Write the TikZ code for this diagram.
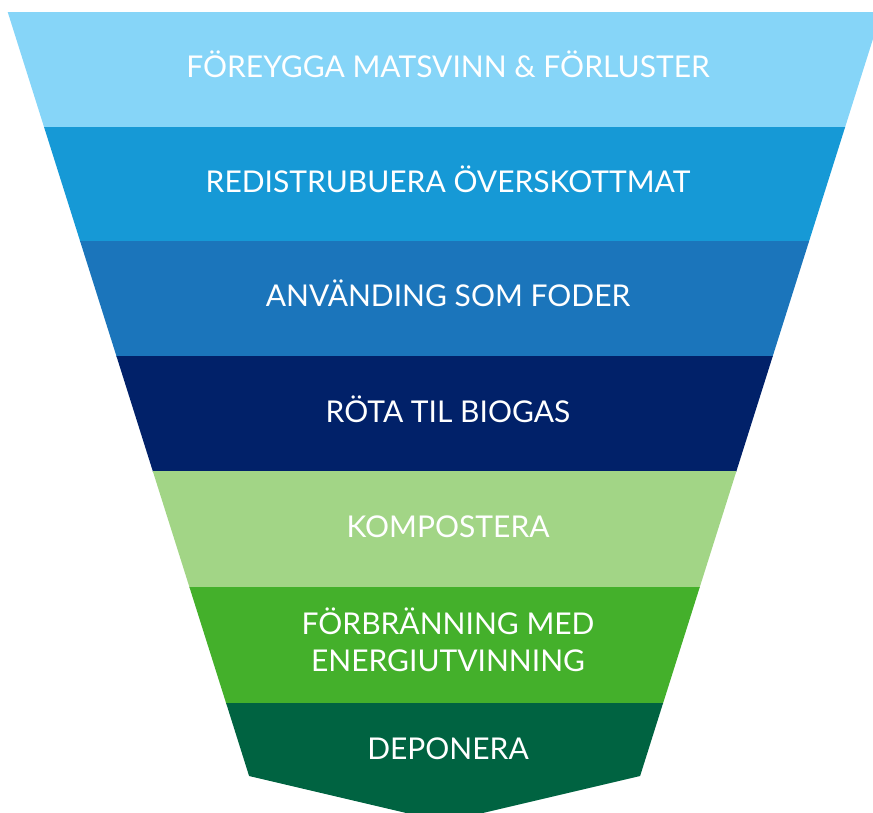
\documentclass[tikz,border=0pt]{standalone}
\usepackage{fontspec}
\setmainfont{Lato}
\usepackage{xcolor}
\usepackage{tikz}
\usetikzlibrary{positioning}

\definecolor{prevblue}{HTML}{86D5F8}
\definecolor{redistblue}{HTML}{1699D6}
\definecolor{feedblue}{HTML}{1B75BB}
\definecolor{biogasnavy}{HTML}{012169}
\definecolor{compostgreen}{HTML}{A2D586}
\definecolor{burngreen}{HTML}{44B02B}
\definecolor{depositgreen}{HTML}{006341}

\begin{document}
\begin{tikzpicture}[
    x=1pt, y=-1pt,
    bandtext/.style={text=white, align=center, anchor=base, font=\fontsize{30}{37}\selectfont, inner sep=0pt}
]
    \useasboundingbox (0,0) rectangle (873,812);
    \clip (0,0) rectangle (873,812);

    % Funnel bands, top to bottom (each one runs 1px into the next)
    \foreach \ya/\yb/\col in {12/127/prevblue, 127/241/redistblue, 241/356/feedblue,
                              356/471/biogasnavy, 471/587/compostgreen, 587/703/burngreen}{
        \fill[\col] ({7.7+0.316*(\ya-12)},\ya) -- ({881.5-0.316*(\ya-12)},\ya)
            -- ({881.5-0.316*(\yb+1-12)},\yb+1) -- ({7.7+0.316*(\yb+1-12)},\yb+1) -- cycle;
    }

    % Bottom band with its pointed base
    \fill[depositgreen] (226.1,703) -- (663.1,703) -- (640.1,776) -- (444.6,822) -- (249.1,776) -- cycle;

    % Labels (placed on their baselines)
    \node[bandtext] (prevent) at (448,77) {FÖREYGGA MATSVINN \& FÖRLUSTER};
    \node[bandtext] (redistribute) at (448,192) {REDISTRUBUERA ÖVERSKOTTMAT};
    \node[bandtext] (feed) at (448,306.5) {ANVÄNDING SOM FODER};
    \node[bandtext] (biogas) at (448,422) {RÖTA TIL BIOGAS};
    \node[bandtext] (compost) at (448,537) {KOMPOSTERA};
    \node[bandtext] (burn) at (448,671) {FÖRBRÄNNING MED\\ENERGIUTVINNING};
    \node[bandtext] (deposit) at (448,759) {DEPONERA};

\end{tikzpicture}
\end{document}
